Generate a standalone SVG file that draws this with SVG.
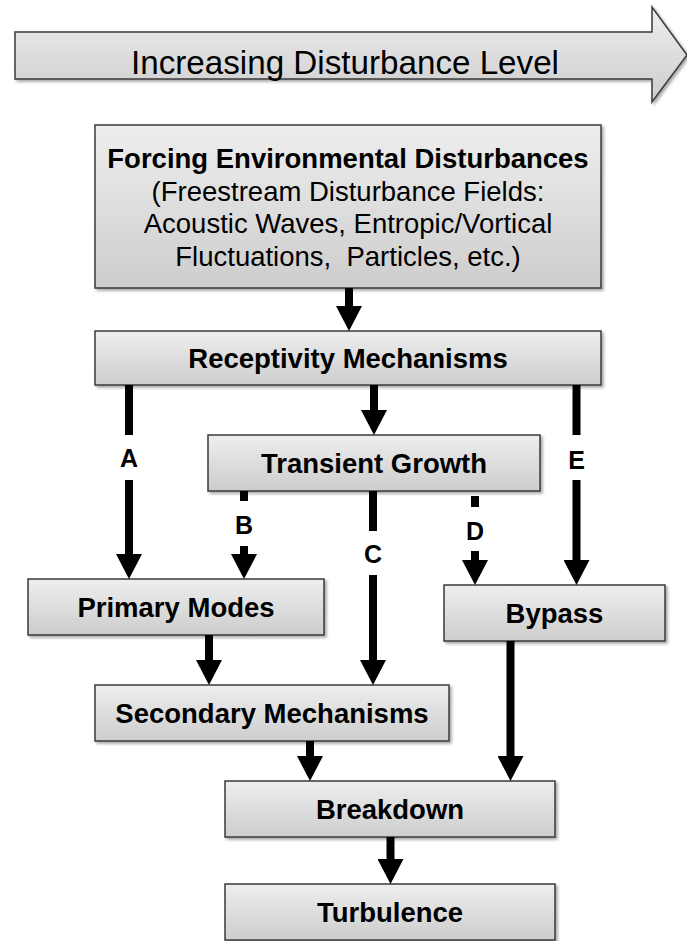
<svg xmlns="http://www.w3.org/2000/svg" width="687" height="941" viewBox="0 0 687 941">
<style>
.box{fill:url(#g);stroke:#3a3a3a;stroke-width:1.5;filter:url(#sh)}
.t{font-family:"Liberation Sans",Arial,sans-serif;font-size:27.5px;font-weight:bold;fill:#000;text-anchor:middle}
.r{font-weight:normal}
.lbl{font-family:"Liberation Sans",Arial,sans-serif;font-size:25px;font-weight:bold;fill:#000;text-anchor:middle}
.c{stroke:#000;stroke-width:8;fill:none}
</style>
<defs>
<linearGradient id="g" x1="0" y1="0" x2="0" y2="1">
<stop offset="0" stop-color="#eeeeee"/>
<stop offset="1" stop-color="#cdcdcd"/>
</linearGradient>
<filter id="sh" x="-5%" y="-5%" width="112%" height="125%">
<feGaussianBlur in="SourceAlpha" stdDeviation="1.5"/>
<feOffset dx="2" dy="2" result="o"/>
<feComponentTransfer><feFuncA type="linear" slope="0.35"/></feComponentTransfer>
<feMerge><feMergeNode/><feMergeNode in="SourceGraphic"/></feMerge>
</filter>
<marker id="ah" markerUnits="userSpaceOnUse" markerWidth="25" markerHeight="26" refX="0" refY="13" orient="auto">
<path d="M0,0 L25,13 L0,26 z" fill="#000"/>
</marker>
</defs>

<g id="level-arrow">
<polygon class="box" points="15,32 652,32 652,7 687,55 652,102 652,79 15,79"/>
<text class="t r" x="345" y="74" style="font-size:33.2px">Increasing Disturbance Level</text>
</g>

<g id="forcing">
<rect class="box" x="95" y="125" width="506" height="163"/>
<text class="t" x="348" y="168">Forcing Environmental Disturbances</text>
<text class="t r" x="348" y="200.5">(Freestream Disturbance Fields:</text>
<text class="t r" x="348" y="233">Acoustic Waves, Entropic/Vortical</text>
<text class="t r" x="348" y="265.5" style="white-space:pre">Fluctuations,  Particles, etc.)</text>
</g>

<g id="receptivity">
<rect class="box" x="95" y="331" width="506" height="54"/>
<text class="t" x="348" y="368">Receptivity Mechanisms</text>
</g>

<g id="transient">
<rect class="box" x="208" y="435" width="332" height="56"/>
<text class="t" x="374" y="473">Transient Growth</text>
</g>

<g id="primary">
<rect class="box" x="28" y="579" width="296" height="56"/>
<text class="t" x="176" y="617">Primary Modes</text>
</g>

<g id="bypass">
<rect class="box" x="444" y="585" width="221" height="56"/>
<text class="t" x="554.5" y="623">Bypass</text>
</g>

<g id="secondary">
<rect class="box" x="95" y="685" width="354" height="56"/>
<text class="t" x="272" y="723">Secondary Mechanisms</text>
</g>

<g id="breakdown">
<rect class="box" x="225" y="781" width="330" height="56"/>
<text class="t" x="390" y="819">Breakdown</text>
</g>

<g id="turbulence">
<rect class="box" x="225" y="884" width="330" height="56"/>
<text class="t" x="390" y="922">Turbulence</text>
</g>

<g id="connectors">
<line class="c" x1="349" y1="288" x2="349" y2="306" marker-end="url(#ah)"/>
<line class="c" x1="374" y1="385" x2="374" y2="410" marker-end="url(#ah)"/>
<line class="c" x1="129" y1="385" x2="129" y2="435"/>
<line class="c" x1="129" y1="480" x2="129" y2="554" marker-end="url(#ah)"/>
<line class="c" x1="244" y1="491" x2="244" y2="501"/>
<line class="c" x1="244" y1="546" x2="244" y2="554" marker-end="url(#ah)"/>
<line class="c" x1="373" y1="491" x2="373" y2="531"/>
<line class="c" x1="373" y1="575" x2="373" y2="660" marker-end="url(#ah)"/>
<line class="c" x1="475" y1="496" x2="475" y2="507"/>
<line class="c" x1="475" y1="551" x2="475" y2="560" marker-end="url(#ah)"/>
<line class="c" x1="576.5" y1="385" x2="576.5" y2="435"/>
<line class="c" x1="576.5" y1="480" x2="576.5" y2="560" marker-end="url(#ah)"/>
<line class="c" x1="209" y1="635" x2="209" y2="660" marker-end="url(#ah)"/>
<line class="c" x1="310" y1="741" x2="310" y2="756" marker-end="url(#ah)"/>
<line class="c" x1="510.5" y1="641" x2="510.5" y2="756" marker-end="url(#ah)"/>
<line class="c" x1="390.5" y1="837" x2="390.5" y2="859" marker-end="url(#ah)"/>
<text class="lbl" x="129" y="467">A</text>
<text class="lbl" x="244" y="534">B</text>
<text class="lbl" x="373" y="563">C</text>
<text class="lbl" x="475" y="540">D</text>
<text class="lbl" x="576.5" y="469">E</text>
</g>
</svg>
